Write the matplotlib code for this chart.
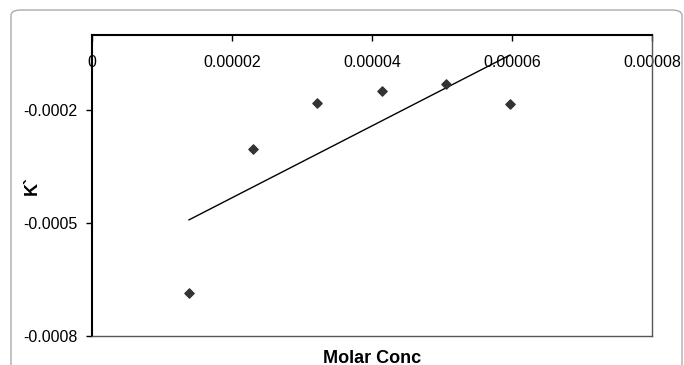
import numpy as np
import matplotlib
matplotlib.use("Agg")
import matplotlib.pyplot as plt
from matplotlib.patches import FancyBboxPatch

plt.rcParams['font.family'] = ['Liberation Sans', 'DejaVu Sans']

# data
molar_conc = [1.386e-5, 2.305e-5, 3.219e-5, 4.138e-5, 5.053e-5, 5.971e-5]
k_values = [-0.000685, -0.000304, -0.000182, -0.000150, -0.0001295, -0.000183]

x_ticks = [0, 0.00002, 0.00004, 0.00006, 0.00008]
x_tick_labels = ["0", "0.00002", "0.00004", "0.00006", "0.00008"]
y_ticks = [-0.0008, -0.0005, -0.0002]
y_tick_labels = ["-0.0008", "-0.0005", "-0.0002"]

fig = plt.figure(figsize=(6.84, 3.65), dpi=100)
ax = fig.add_axes([92 / 684, 1 - 336 / 365, 560 / 684, 301 / 365])

# outer chart border (rounded, bottom cut off)
border = FancyBboxPatch((11 / 684, -0.1), 671 / 684, 1.1 - 10 / 365,
                        boxstyle="round,pad=0,rounding_size=0.015",
                        transform=fig.transFigure, fill=False,
                        edgecolor="#ababab", linewidth=1.0, clip_on=False)
fig.patches.append(border)

ax.scatter(molar_conc, k_values, marker="D", s=22, color="#333333", zorder=3)

# linear trendline
slope, intercept = np.polyfit(molar_conc, k_values, 1)
xs = np.array([molar_conc[0], molar_conc[-1]])
ax.plot(xs, slope * xs + intercept, color="black", linewidth=1.0)

ax.set_xlim(0, 0.00008)
ax.set_ylim(-0.0008, 0)

ax.set_xticks(x_ticks)
ax.set_xticklabels(x_tick_labels)
ax.set_yticks(y_ticks)
ax.set_yticklabels(y_tick_labels)

ax.tick_params(axis="x", top=True, bottom=False, labeltop=True, labelbottom=False,
               direction="in", length=4.5, width=1, pad=-25, labelsize=11.5)
ax.tick_params(axis="y", direction="out", length=4.5, width=1, labelsize=11.5, pad=6)

for side in ["top", "left"]:
    ax.spines[side].set_color("black")
    ax.spines[side].set_linewidth(1.5)
for side in ["right", "bottom"]:
    ax.spines[side].set_color("#555555")
    ax.spines[side].set_linewidth(1.0)

ax.set_xlabel("Molar Conc", fontweight="bold", fontsize=13)
ax.xaxis.set_label_coords(0.5, -0.045)
ax.set_ylabel("K`", fontweight="bold", fontsize=13)
ax.yaxis.set_label_coords(-0.092, 0.5)

fig.savefig("out.png", dpi=100)
